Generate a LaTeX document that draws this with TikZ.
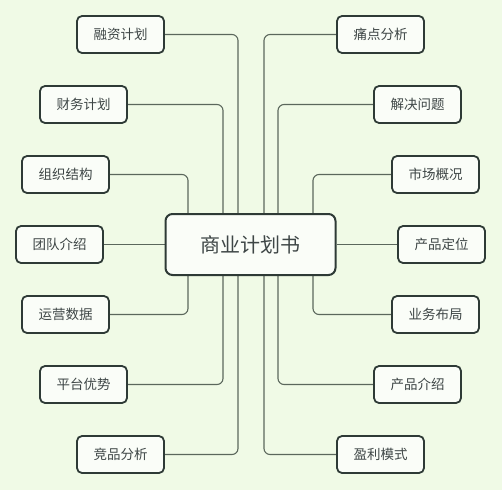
\documentclass[tikz,border=0pt]{standalone}
\usepackage{fontspec}
\usetikzlibrary{backgrounds}
\newfontfamily\cjk{Noto Sans CJK SC}
\definecolor{bg}{HTML}{F0FAE6}
\definecolor{bord}{HTML}{2E3A36}
\definecolor{wire}{HTML}{5B675C}
\definecolor{txt}{HTML}{3E4646}
\definecolor{boxfill}{HTML}{FAFDF8}
\pgfdeclarelayer{canvas}
\pgfsetlayers{canvas,background,main}
\tikzset{
  leaf/.style={draw=bord, line width=1.8pt, fill=boxfill, rounded corners=5pt,
    minimum width=87pt, minimum height=37pt, inner sep=0pt,
    font=\cjk\fontsize{13.5}{14}\selectfont, text=txt},
  hub/.style={draw=bord, line width=2pt, fill=boxfill, rounded corners=7pt,
    minimum width=170pt, minimum height=61pt, inner sep=0pt,
    font=\cjk\fontsize{20}{21}\selectfont, text=txt},
  wire/.style={draw=wire, line width=1.1pt, rounded corners=6pt}
}
\begin{document}
\begin{tikzpicture}[x=1pt,y=-1pt]
\begin{pgfonlayer}{canvas}
\fill[bg] (0,0) rectangle (502,490);
\end{pgfonlayer}
\useasboundingbox (0,0) rectangle (502,490);
\node[hub] (c) at (250.5,244.5) {商业计划书};
\coordinate (nL1) at ([xshift=-12.5pt]c.north);
\coordinate (nL2) at ([xshift=-27.5pt]c.north);
\coordinate (nL3) at ([xshift=-62.5pt]c.north);
\coordinate (nR1) at ([xshift=13.5pt]c.north);
\coordinate (nR2) at ([xshift=27.5pt]c.north);
\coordinate (nR3) at ([xshift=62.5pt]c.north);
\coordinate (sL1) at ([xshift=-12.5pt]c.south);
\coordinate (sL2) at ([xshift=-27.5pt]c.south);
\coordinate (sL3) at ([xshift=-62.5pt]c.south);
\coordinate (sR1) at ([xshift=13.5pt]c.south);
\coordinate (sR2) at ([xshift=27.5pt]c.south);
\coordinate (sR3) at ([xshift=62.5pt]c.south);
% left nodes
\node[leaf] (l1) at (120.5,34.5) {融资计划};
\node[leaf] (l2) at (83.5,104.5) {财务计划};
\node[leaf] (l3) at (65.5,174.5) {组织结构};
\node[leaf] (l4) at (59.5,244.5) {团队介绍};
\node[leaf] (l5) at (65.5,314.5) {运营数据};
\node[leaf] (l6) at (83.5,384.5) {平台优势};
\node[leaf] (l7) at (120.5,454.5) {竞品分析};
% right nodes
\node[leaf] (r1) at (380.5,34.5) {痛点分析};
\node[leaf] (r2) at (417.5,104.5) {解决问题};
\node[leaf] (r3) at (435.5,174.5) {市场概况};
\node[leaf] (r4) at (441.5,244.5) {产品定位};
\node[leaf] (r5) at (435.5,314.5) {业务布局};
\node[leaf] (r6) at (417.5,384.5) {产品介绍};
\node[leaf] (r7) at (380.5,454.5) {盈利模式};
\begin{scope}[on background layer]
\draw[wire] (l1.east) -| (nL1);
\draw[wire] (l2.east) -| (nL2);
\draw[wire] (l3.east) -| (nL3);
\draw[wire] (l4.east) -- (c.west);
\draw[wire] (l5.east) -| (sL3);
\draw[wire] (l6.east) -| (sL2);
\draw[wire] (l7.east) -| (sL1);
\draw[wire] (r1.west) -| (nR1);
\draw[wire] (r2.west) -| (nR2);
\draw[wire] (r3.west) -| (nR3);
\draw[wire] (r4.west) -- (c.east);
\draw[wire] (r5.west) -| (sR3);
\draw[wire] (r6.west) -| (sR2);
\draw[wire] (r7.west) -| (sR1);
\end{scope}
\end{tikzpicture}
\end{document}
